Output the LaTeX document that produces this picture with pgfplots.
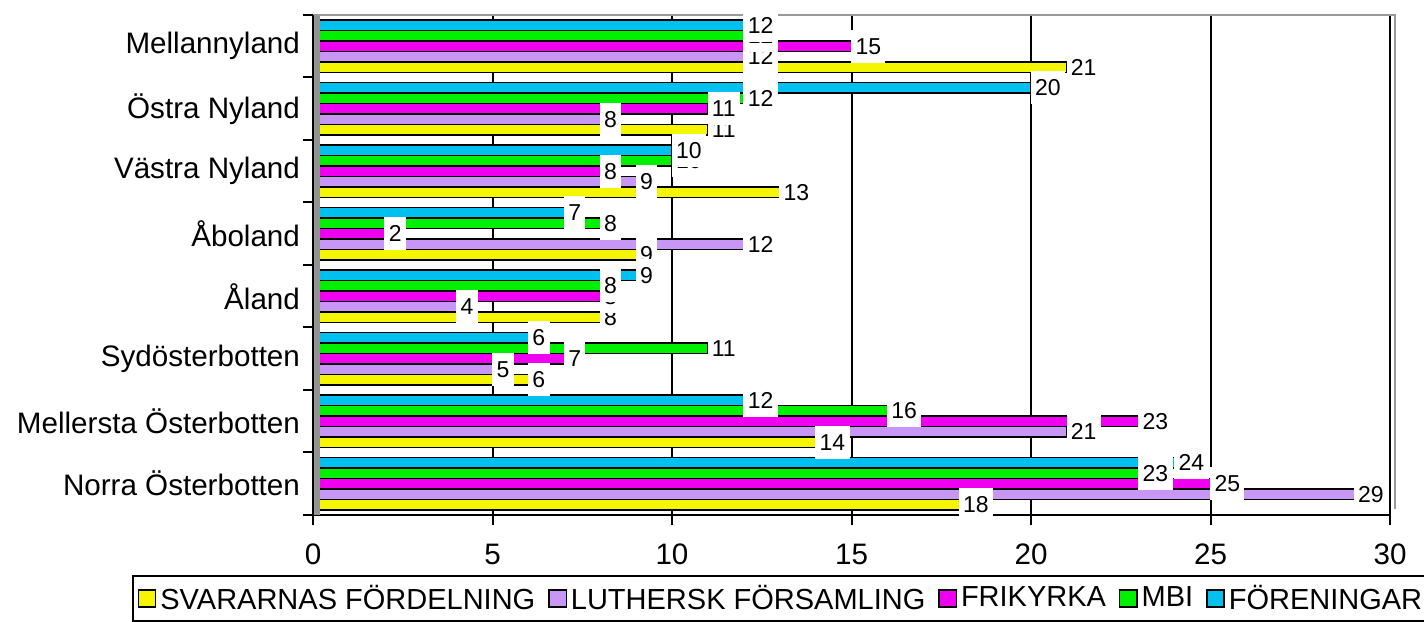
\documentclass[border=0pt]{standalone}
\usepackage{pgfplots}
\pgfplotsset{compat=1.18}
\usepackage{fontspec}
\setmainfont{Liberation Sans}
\definecolor{cYel}{RGB}{245,245,0}
\definecolor{cPur}{RGB}{200,150,245}
\definecolor{cMag}{RGB}{240,0,240}
\definecolor{cGre}{RGB}{0,240,0}
\definecolor{cCya}{RGB}{0,192,240}
\begin{document}
\begin{tikzpicture}
\begin{axis}[
  set layers, mark layer=axis foreground,
  scale only axis, width=538.5pt, height=250pt,
  xbar, bar width=5.25pt,
  xmin=0, xmax=30, ymin=-0.5, ymax=7.5,
  axis x line*=bottom, axis y line*=left,
  axis line style={black, line width=1pt},
  xtick={0,5,...,30},
  tick align=outside, major tick length=5pt,
  tick style={black, line width=1pt},
  xmajorgrids, grid style={black, line width=1pt},
  ytick={-0.5,0.5,...,7.5}, yticklabels={},
  extra y ticks={0,1,...,7},
  extra y tick labels={Norra Österbotten,Mellersta Österbotten,Sydösterbotten,Åland,Åboland,Västra Nyland,Östra Nyland,Mellannyland},
  extra y tick style={major tick length=0pt, yticklabel style={xshift=-3pt}},
  /pgf/number format/assume math mode=true,
  tick label style={font=\fontsize{14.8}{16}\selectfont},
  xticklabel style={yshift=-6pt},
  clip=false,
  point meta=x,
  nodes near coords={\pgfmathprintnumber[fixed,precision=0]{\pgfplotspointmeta}},
  every node near coord/.append style={font=\fontsize{11.5}{12}\selectfont, fill=white, inner xsep=2.2pt, inner ysep=4.2pt, anchor=west, xshift=-0.5pt},
  legend style={at={(0,0)}, anchor=north west, xshift=-90.5pt, yshift=-30pt,
    draw=black, line width=0.8pt, legend columns=5,
    font=\fontsize{14.5}{15.5}\selectfont, inner sep=2.5pt,
    /tikz/every even column/.append style={column sep=4.5pt}},
  legend image code/.code={\draw[#1, draw=black, line width=0.7pt] (0pt,-4.3pt) rectangle (8.6pt,4.3pt);},
]
\addplot[fill=cYel, draw=black, line width=0.6pt, bar shift=-10.5pt] coordinates {(18,0) (14,1) (6,2) (8,3) (9,4) (13,5) (11,6) (21,7)};
\addplot[fill=cPur, draw=black, line width=0.6pt, bar shift=-5.25pt] coordinates {(29,0) (21,1) (5,2) (4,3) (12,4) (9,5) (8,6) (12,7)};
\addplot[fill=cMag, draw=black, line width=0.6pt, bar shift=0pt] coordinates {(25,0) (23,1) (7,2) (8,3) (2,4) (8,5) (11,6) (15,7)};
\addplot[fill=cGre, draw=black, line width=0.6pt, bar shift=5.25pt] coordinates {(23,0) (16,1) (11,2) (8,3) (8,4) (10,5) (12,6) (12,7)};
\addplot[fill=cCya, draw=black, line width=0.6pt, bar shift=10.5pt] coordinates {(24,0) (12,1) (6,2) (9,3) (7,4) (10,5) (20,6) (12,7)};
\legend{SVARARNAS FÖRDELNING,LUTHERSK FÖRSAMLING,FRIKYRKA,MBI,FÖRENINGAR}
\fill[gray!85] (rel axis cs:0,0) rectangle ([xshift=3.5pt]rel axis cs:0,1);
\draw[gray!80, line width=1.2pt] (rel axis cs:0,1) -- ([xshift=2.5pt]rel axis cs:1,1) -- ([xshift=2.5pt,yshift=3pt]rel axis cs:1,0);
\draw[black, line width=1pt] (rel axis cs:0,0) -- (rel axis cs:0,1);
\path (rel axis cs:0,0) coordinate (sw);
\path (rel axis cs:1,1) coordinate (ne);
\end{axis}
\pgfresetboundingbox
\path[use as bounding box] ([shift={(-156.5pt,-53pt)}]sw) rectangle ([shift={(17pt,7.5pt)}]ne);
\end{tikzpicture}
\end{document}
